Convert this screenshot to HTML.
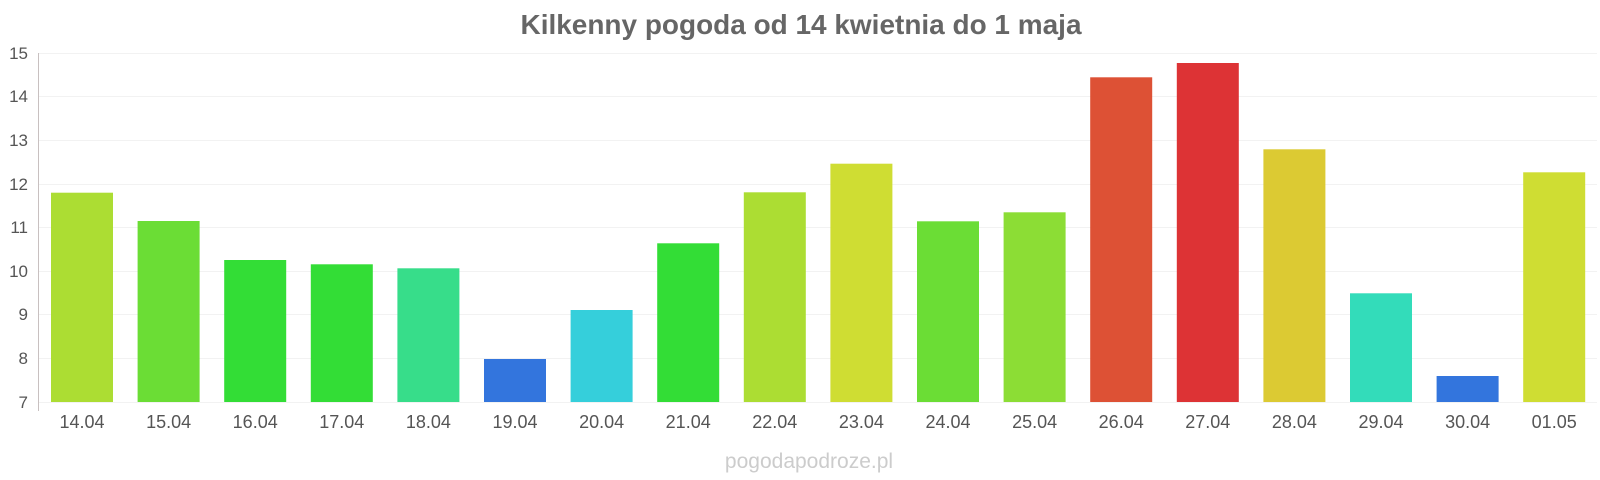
<!DOCTYPE html>
<html><head><meta charset="utf-8"><style>body{margin:0;background:#fff}svg{display:block}</style></head>
<body>
<svg width="1600" height="480" xmlns="http://www.w3.org/2000/svg" font-family="Liberation Sans, sans-serif">
<text x="801" y="34" text-anchor="middle" font-size="28" font-weight="bold" fill="#666" textLength="561" lengthAdjust="spacingAndGlyphs">Kilkenny pogoda od 14 kwietnia do 1 maja</text>
<g stroke="#f2f2f2" stroke-width="1">
<line x1="38" x2="1597" y1="53.5" y2="53.5"/><line x1="38" x2="1597" y1="96.5" y2="96.5"/>
<line x1="38" x2="1597" y1="140.5" y2="140.5"/><line x1="38" x2="1597" y1="184.5" y2="184.5"/>
<line x1="38" x2="1597" y1="227.5" y2="227.5"/><line x1="38" x2="1597" y1="271.5" y2="271.5"/>
<line x1="38" x2="1597" y1="314.5" y2="314.5"/><line x1="38" x2="1597" y1="358.5" y2="358.5"/>
<line x1="38" x2="1597" y1="402.5" y2="402.5"/>
</g>
<line x1="38.5" x2="38.5" y1="53" y2="411" stroke="#c8c0c0"/>
<g font-size="17" fill="#555" text-anchor="end">
<text x="28" y="59">15</text><text x="28" y="102">14</text><text x="28" y="146">13</text><text x="28" y="190">12</text>
<text x="28" y="233">11</text><text x="28" y="277">10</text><text x="28" y="320">9</text><text x="28" y="364">8</text><text x="28" y="408">7</text>
</g>
<g>
<rect x="51" y="192.7" width="62" height="209.3" fill="#acdd33"/>
<rect x="137.6" y="221" width="62" height="181" fill="#6bdd35"/>
<rect x="224.2" y="260" width="62" height="142" fill="#33dd36"/>
<rect x="310.8" y="264.3" width="62" height="137.7" fill="#33dd36"/>
<rect x="397.4" y="268.3" width="62" height="133.7" fill="#37dd8a"/>
<rect x="484" y="359" width="62" height="43" fill="#3375dd"/>
<rect x="570.6" y="310" width="62" height="92" fill="#35cfdb"/>
<rect x="657.2" y="243.3" width="62" height="158.7" fill="#33dd36"/>
<rect x="743.8" y="192.3" width="62" height="209.7" fill="#acdd33"/>
<rect x="830.4" y="163.7" width="62" height="238.3" fill="#cfdd33"/>
<rect x="917" y="221.3" width="62" height="180.7" fill="#6bdd35"/>
<rect x="1003.6" y="212.3" width="62" height="189.7" fill="#8cdd35"/>
<rect x="1090.2" y="77.3" width="62" height="324.7" fill="#dd5135"/>
<rect x="1176.8" y="63" width="62" height="339" fill="#dd3335"/>
<rect x="1263.4" y="149.3" width="62" height="252.7" fill="#dcca33"/>
<rect x="1350" y="293.3" width="62" height="108.7" fill="#33dcba"/>
<rect x="1436.6" y="376" width="62" height="26" fill="#3375dd"/>
<rect x="1523.2" y="172.3" width="62" height="229.7" fill="#cfdd33"/>
</g>
<g font-size="18" fill="#555" text-anchor="middle">
<text x="82" y="428">14.04</text><text x="168.6" y="428">15.04</text><text x="255.2" y="428">16.04</text>
<text x="341.8" y="428">17.04</text><text x="428.4" y="428">18.04</text><text x="515" y="428">19.04</text>
<text x="601.6" y="428">20.04</text><text x="688.2" y="428">21.04</text><text x="774.8" y="428">22.04</text>
<text x="861.4" y="428">23.04</text><text x="948" y="428">24.04</text><text x="1034.6" y="428">25.04</text>
<text x="1121.2" y="428">26.04</text><text x="1207.8" y="428">27.04</text><text x="1294.4" y="428">28.04</text>
<text x="1381" y="428">29.04</text><text x="1467.6" y="428">30.04</text><text x="1554.2" y="428">01.05</text>
</g>
<text x="809" y="468" text-anchor="middle" font-size="21" fill="#ccc">pogodapodroze.pl</text>
</svg>
</body></html>
